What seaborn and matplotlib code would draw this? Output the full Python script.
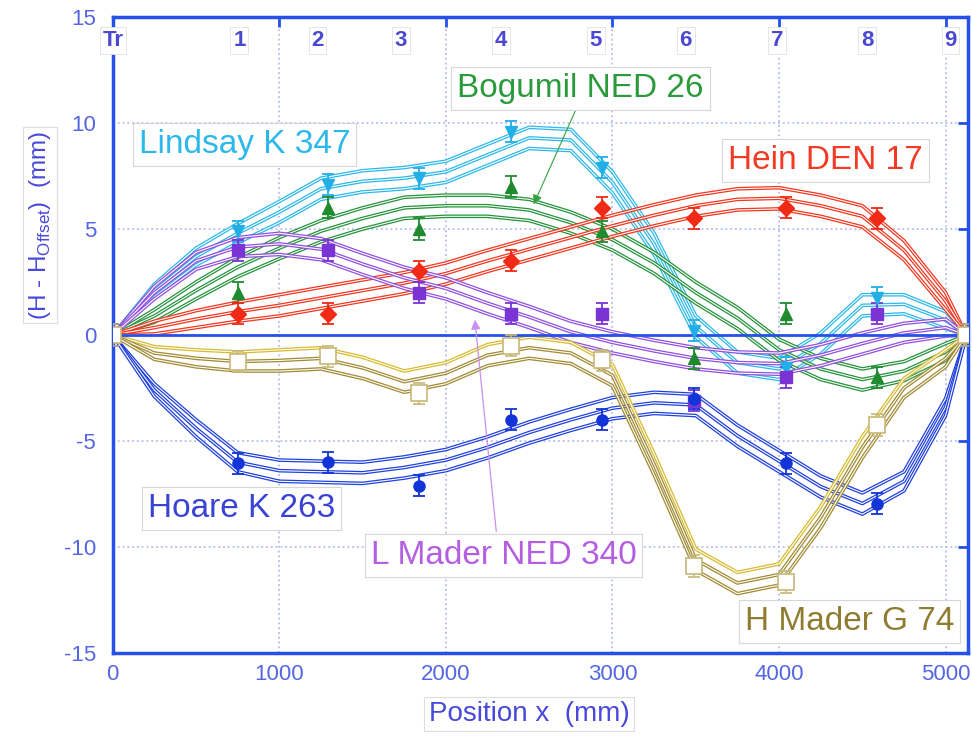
import matplotlib
matplotlib.use("Agg")
import matplotlib.pyplot as plt
import seaborn as sns

# measuring positions along the rail (mm) and top labels
pos_x = [0, 750, 1290, 1840, 2390, 2940, 3490, 4040, 4590, 5125]
top_labels = ["Tr", "1", "2", "3", "4", "5", "6", "7", "8", "9"]
top_label_x = [0, 760, 1230, 1730, 2330, 2900, 3440, 3990, 4530, 5030]

# measured points (mm)
lindsay_pts = [0, 4.9, 7.1, 7.4, 9.6, 7.9, 0.2, -1.55, 1.75, 0]
bogumil_pts = [0, 2.0, 6.0, 5.0, 7.0, 4.9, -1.1, 1.0, -2.0, 0]
hein_pts = [0, 1.0, 1.0, 3.0, 3.5, 6.0, 5.5, 6.0, 5.5, 0]
lmader_pts = [0, 4.0, 4.0, 2.0, 1.0, 1.0, -3.1, -2.0, 1.0, 0]
hoare_pts = [0, -6.05, -6.0, -7.1, -4.0, -4.0, -3.0, -6.05, -7.95, 0]
hmader_pts = [0, -1.25, -1.0, -2.75, -0.5, -1.2, -10.9, -11.65, -4.25, 0]
err = 0.5

# fitted curves
fit_x = [0, 250, 500, 750, 1000, 1250, 1500, 1750, 2000, 2250, 2500,
         2750, 3000, 3250, 3500, 3750, 4000, 4250, 4500, 4750, 5000, 5125]
lindsay_fit = [0, 2.1, 3.7, 4.8, 5.8, 6.9, 7.25, 7.4, 7.7, 8.5, 9.3,
               9.2, 7.2, 4.3, 0.4, -1.3, -1.6, -0.4, 1.4, 1.45, 0.7, 0]
bogumil_fit = [0, 0.9, 2.1, 3.2, 4.1, 4.9, 5.5, 6.0, 6.1, 6.1, 5.9,
               5.3, 4.5, 3.4, 2.0, 0.8, -0.7, -1.6, -2.1, -1.7, -0.8, 0]
hein_fit = [0, 0.35, 0.75, 1.1, 1.4, 1.75, 2.1, 2.45, 2.9, 3.5, 4.05,
            4.6, 5.15, 5.65, 6.1, 6.4, 6.45, 6.1, 5.6, 4.0, 1.6, 0]
lmader_fit = [0, 2.0, 3.5, 4.15, 4.3, 4.05, 3.35, 2.7, 2.2, 1.5, 0.85,
              0.15, -0.35, -0.75, -1.1, -1.3, -1.35, -0.95, -0.4, 0.1, 0.35, 0]
hoare_fit = [0, -2.6, -4.4, -6.0, -6.4, -6.45, -6.5, -6.25, -5.9, -5.3, -4.6,
             -4.0, -3.45, -3.2, -3.3, -4.75, -5.95, -7.15, -7.95, -6.9, -3.4, 0]
hmader_fit = [0, -0.85, -1.1, -1.25, -1.2, -1.1, -1.55, -2.2, -1.8, -0.95, -0.6,
              -0.85, -1.9, -6.1, -10.6, -11.7, -11.3, -8.6, -5.3, -2.5, -1.1, 0]
# half width of the band around each fit
band_half = [0, 0.3, 0.4, 0.45, 0.5, 0.5, 0.5, 0.5, 0.5, 0.5, 0.5,
             0.5, 0.5, 0.5, 0.5, 0.5, 0.5, 0.5, 0.5, 0.45, 0.4, 0]

names = ["Lindsay K 347", "Bogumil NED 26", "Hein DEN 17",
         "L Mader NED 340", "Hoare K 263", "H Mader G 74"]
label_xy = [(792, 9.0), (2808, 11.65), (4278, 8.25),
            (2346, -10.4), (774, -8.2), (4422, -13.5)]

series = [
    # pts, fit, line colour, top line colour, marker, marker colour, text colour
    (lindsay_pts, lindsay_fit, "#2cb8ea", "#2cb8ea", "v", "#22aee6", "#2cb8ea"),
    (bogumil_pts, bogumil_fit, "#25923a", "#25923a", "^", "#1f8a2e", "#2b9a3c"),
    (hein_pts, hein_fit, "#f2361f", "#f2361f", "D", "#f02a14", "#f23a24"),
    (lmader_pts, lmader_fit, "#9050dc", "#9050dc", "s", "#7a34d6", "#b45ee2"),
    (hoare_pts, hoare_fit, "#1f40dc", "#1f40dc", "o", "#1234d8", "#3a44d4"),
    (hmader_pts, hmader_fit, "#a08a32", "#d8ba30", "s", "#c8b878", "#8e7c30"),
]

axis_blue = "#2650ea"
tick_blue = "#5566e4"

sns.set_theme(style="white")
plt.rcParams['font.family'] = ['Liberation Sans', 'DejaVu Sans']
plt.rcParams['mathtext.fontset'] = 'custom'
plt.rcParams['mathtext.rm'] = 'Liberation Sans'
plt.rcParams['axes.unicode_minus'] = False

fig = plt.figure(figsize=(9.72, 7.42), dpi=100)
ax = fig.add_axes([0.116, 0.12, 0.880, 0.857])

for pts, fit, col, top_col, mk, mcol, tcol in series:
    for off, c in [(1, top_col), (0, col), (-1, col)]:
        yy = [f + off * b for f, b in zip(fit, band_half)]
        sns.lineplot(x=fit_x, y=yy, color=c, lw=2.6, ax=ax, zorder=3,
                     solid_joinstyle="round")
        sns.lineplot(x=fit_x, y=yy, color="white", lw=0.8, ax=ax, zorder=3,
                     solid_joinstyle="round")

ax.axhline(0, color=axis_blue, lw=2, zorder=4)

for pts, fit, col, top_col, mk, mcol, tcol in series:
    if mk == "s" and mcol == "#c8b878":
        ax.errorbar(pos_x, pts, yerr=err, fmt=mk, ms=12, mfc="white",
                    mec=mcol, mew=1.2, ecolor=mcol, elinewidth=1.2,
                    capsize=4, zorder=6)
    else:
        ax.errorbar(pos_x, pts, yerr=err, fmt=mk, ms=8, color=mcol,
                    elinewidth=1.3, capsize=4, capthick=1.3, zorder=6)

box = dict(boxstyle="square,pad=0.18", fc="white", ec="#d6d6d6", lw=0.8)
for name, (tx, ty), s in zip(names, label_xy, series):
    ax.text(tx, ty, name, color=s[6], fontsize=24, ha="center", va="center",
            bbox=box, zorder=8)

ax.annotate("", xy=(2520, 6.04), xytext=(2784, 10.7),
            arrowprops=dict(arrowstyle="-|>", color="#35a040", lw=0.8,
                            mutation_scale=14), zorder=7)
ax.annotate("", xy=(2172, 0.85), xytext=(2304, -9.4),
            arrowprops=dict(arrowstyle="-|>", color="#c890f0", lw=0.9,
                            mutation_scale=14), zorder=7)

tbox = dict(boxstyle="square,pad=0.12", fc="white", ec="#e2e2e2", lw=0.6)
for lab, lx in zip(top_labels, top_label_x):
    ax.text(lx, 13.9, lab, color="#4a48d2", fontsize=16, fontweight="bold",
            ha="center", va="center", bbox=tbox, zorder=8)

ax.set_xlim(0, 5135)
ax.set_ylim(-15, 15)
ax.set_xticks([0, 1000, 2000, 3000, 4000, 5000])
ax.set_yticks([-15, -10, -5, 0, 5, 10, 15])
ax.grid(True, ls=":", color="#b4bcf0", lw=1.3)
for sp in ax.spines.values():
    sp.set_color(axis_blue)
    sp.set_linewidth(2.5)
ax.tick_params(direction="in", length=7, width=2, color=axis_blue,
               top=True, right=True, labelsize=16, labelcolor=tick_blue)
ax.tick_params(axis="y", pad=12)
ax.tick_params(axis="x", pad=8)
ax.set_xlabel("")
ax.set_ylabel("")

fig.text(529 / 972, 1 - 714 / 742, "Position x  (mm)", fontsize=20,
         color="#4848dc", ha="center", va="center",
         bbox=dict(boxstyle="square,pad=0.15", fc="white", ec="#dddddd", lw=0.8))
fig.text(40 / 972, 1 - 225 / 742, "(H - H$_{\\rm Offset}$)  (mm)", rotation=90,
         fontsize=17.5, color="#4848dc", ha="center", va="center",
         bbox=dict(boxstyle="square,pad=0.15", fc="white", ec="#dddddd", lw=0.8))

fig.savefig("out.png", dpi=100)
